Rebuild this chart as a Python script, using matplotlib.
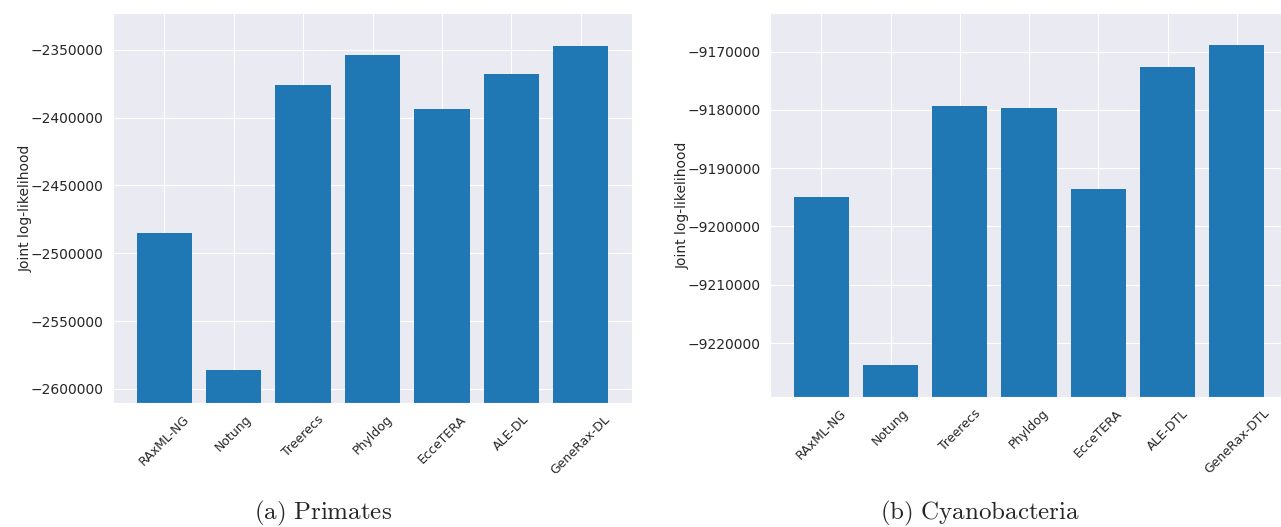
import matplotlib

matplotlib.use("Agg")
import matplotlib.pyplot as plt
import seaborn as sns
from matplotlib.ticker import ScalarFormatter

# Joint log-likelihood per method.
PRIMATES_METHODS = ["RAxML-NG", "Notung", "Treerecs", "Phyldog", "EcceTERA",
                    "ALE-DL", "GeneRax-DL"]
PRIMATES_LL = [-2485100, -2586500, -2375700, -2353500, -2393400, -2367500,
               -2346800]

CYANO_METHODS = ["RAxML-NG", "Notung", "Treerecs", "Phyldog", "EcceTERA",
                 "ALE-DTL", "GeneRax-DTL"]
CYANO_LL = [-9194950, -9223770, -9179300, -9179650, -9193550, -9172600,
            -9168850]

BAR_COLOR = "#1f77b4"

sns.set_style("darkgrid")
plt.rcParams["font.family"] = ["DejaVu Sans"]
plt.rcParams["mathtext.fontset"] = "cm"


def draw_panel(ax, methods, values):
    xs = range(len(methods))
    lo, hi = min(values), max(values)
    pad = 0.1 * (hi - lo)
    # Bars grow up from below the visible range, so they fill to the axis.
    base = lo - 2 * pad
    ax.bar(xs, [v - base for v in values], bottom=base, width=0.8,
           color=BAR_COLOR, linewidth=0, zorder=2)
    ax.set_ylim(lo - pad, hi + pad)
    fmt = ScalarFormatter(useOffset=False)
    fmt.set_scientific(False)
    ax.yaxis.set_major_formatter(fmt)
    ax.set_xticks(list(xs))
    ax.set_xticklabels(methods, rotation=45, fontsize=9)
    ax.tick_params(axis="y", labelsize=10)
    ax.set_ylabel("Joint log-likelihood", fontsize=10, labelpad=-2)


fig = plt.figure(figsize=(12.81, 5.27), dpi=100)
ax_a = fig.add_axes([0.0882, 0.2353, 0.4052, 0.7400])
ax_b = fig.add_axes([0.6011, 0.2467, 0.4044, 0.7287])

draw_panel(ax_a, PRIMATES_METHODS, PRIMATES_LL)
draw_panel(ax_b, CYANO_METHODS, CYANO_LL)

fig.text(0.252, 0.025, r"$\mathrm{(a)\ Primates}$", ha="center", va="center",
         fontsize=18)
fig.text(0.765, 0.025, r"$\mathrm{(b)\ Cyanobacteria}$", ha="center",
         va="center", fontsize=18)

fig.savefig("out.png", dpi=100)
